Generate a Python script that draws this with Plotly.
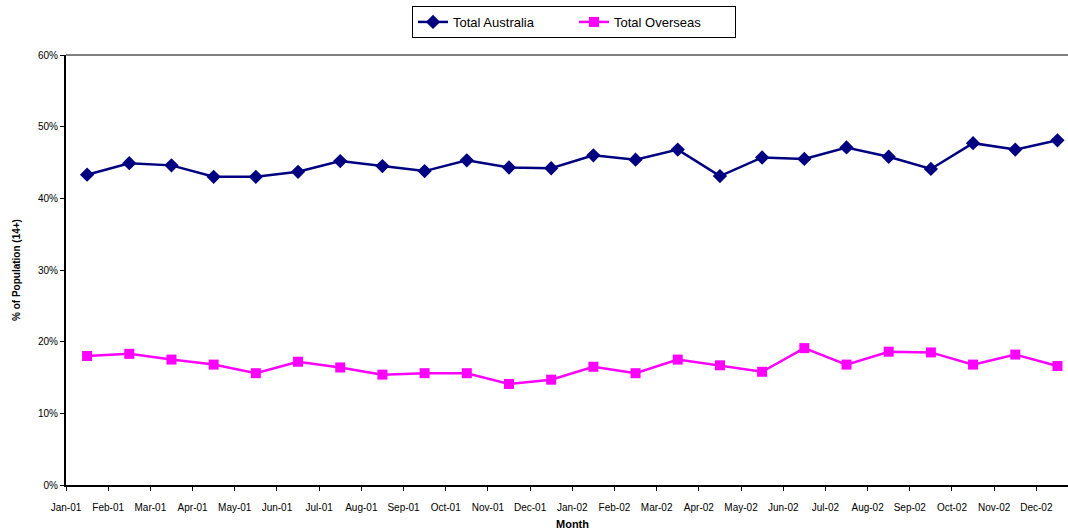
import plotly.graph_objects as go

# Monthly share of the 14+ population, Jan 2001 - Dec 2002
months = ["Jan-01", "Feb-01", "Mar-01", "Apr-01", "May-01", "Jun-01",
          "Jul-01", "Aug-01", "Sep-01", "Oct-01", "Nov-01", "Dec-01",
          "Jan-02", "Feb-02", "Mar-02", "Apr-02", "May-02", "Jun-02",
          "Jul-02", "Aug-02", "Sep-02", "Oct-02", "Nov-02", "Dec-02"]

total_australia = [0.433, 0.449, 0.446, 0.430, 0.430, 0.437,
                   0.452, 0.445, 0.438, 0.453, 0.443, 0.442,
                   0.460, 0.454, 0.468, 0.431, 0.457, 0.455,
                   0.471, 0.458, 0.441, 0.477, 0.468, 0.481]

total_overseas = [0.180, 0.183, 0.175, 0.168, 0.156, 0.172,
                  0.164, 0.154, 0.156, 0.156, 0.141, 0.147,
                  0.165, 0.156, 0.175, 0.167, 0.158, 0.191,
                  0.168, 0.186, 0.185, 0.168, 0.182, 0.166]

y_ticks = [0.0, 0.1, 0.2, 0.3, 0.4, 0.5, 0.6]

FONT = "Arial, Liberation Sans, sans-serif"

# each month sits in the middle of its category slot; labels sit on the slot edges
x_pts = [i + 0.5 for i in range(len(months))]
x_ticks = list(range(len(months)))

fig = go.Figure()
fig.add_trace(go.Scatter(
    x=x_pts, y=total_australia, name="Total Australia",
    mode="lines+markers",
    line=dict(color="#000080", width=2.5),
    marker=dict(symbol="diamond", size=11, color="#000080"),
))
fig.add_trace(go.Scatter(
    x=x_pts, y=total_overseas, name="Total Overseas",
    mode="lines+markers",
    line=dict(color="#FF00FF", width=2.5),
    marker=dict(symbol="square", size=10, color="#FF00FF"),
))

fig.update_layout(
    width=1068, height=531,
    margin=dict(l=66, r=0, t=55, b=46),
    paper_bgcolor="white", plot_bgcolor="white",
    font=dict(family=FONT, size=10, color="black"),
    showlegend=True,
    legend=dict(
        orientation="h", x=0.507, xanchor="center", y=1.114, yanchor="top",
        bordercolor="black", borderwidth=1, bgcolor="white",
        font=dict(family=FONT, size=13, color="black"),
        entrywidth=116, entrywidthmode="pixels",
        itemwidth=30,
    ),
    xaxis=dict(
        range=[0, 23.75], tickmode="array", tickvals=x_ticks, ticktext=months,
        showgrid=False, zeroline=False, showline=True, linecolor="black",
        linewidth=2, ticks="outside", ticklen=4, tickcolor="black",
        ticklabelstandoff=8, tickfont=dict(size=10, family=FONT),
    ),
    yaxis=dict(
        range=[0, 0.6], tickmode="array", tickvals=y_ticks, tickformat=".0%",
        showgrid=False, zeroline=False, showline=True, linecolor="black",
        linewidth=2, ticks="outside", ticklen=4, tickcolor="black",
        tickfont=dict(size=10, family=FONT),
    ),
    shapes=[dict(type="line", xref="paper", yref="paper", x0=0, x1=1, y0=1, y1=1,
                 line=dict(color="#808080", width=2))],
    annotations=[
        dict(text="<b>% of Population (14+)</b>", xref="paper", yref="paper",
             x=-0.0499, y=0.5, xanchor="center", yanchor="middle",
             textangle=-90, showarrow=False, font=dict(size=10, family=FONT)),
        dict(text="<b>Month</b>", xref="paper", yref="paper",
             x=0.505, y=-0.0907, xanchor="center", yanchor="middle",
             showarrow=False, font=dict(size=11, family=FONT)),
    ],
)

fig.write_html("out.html")
